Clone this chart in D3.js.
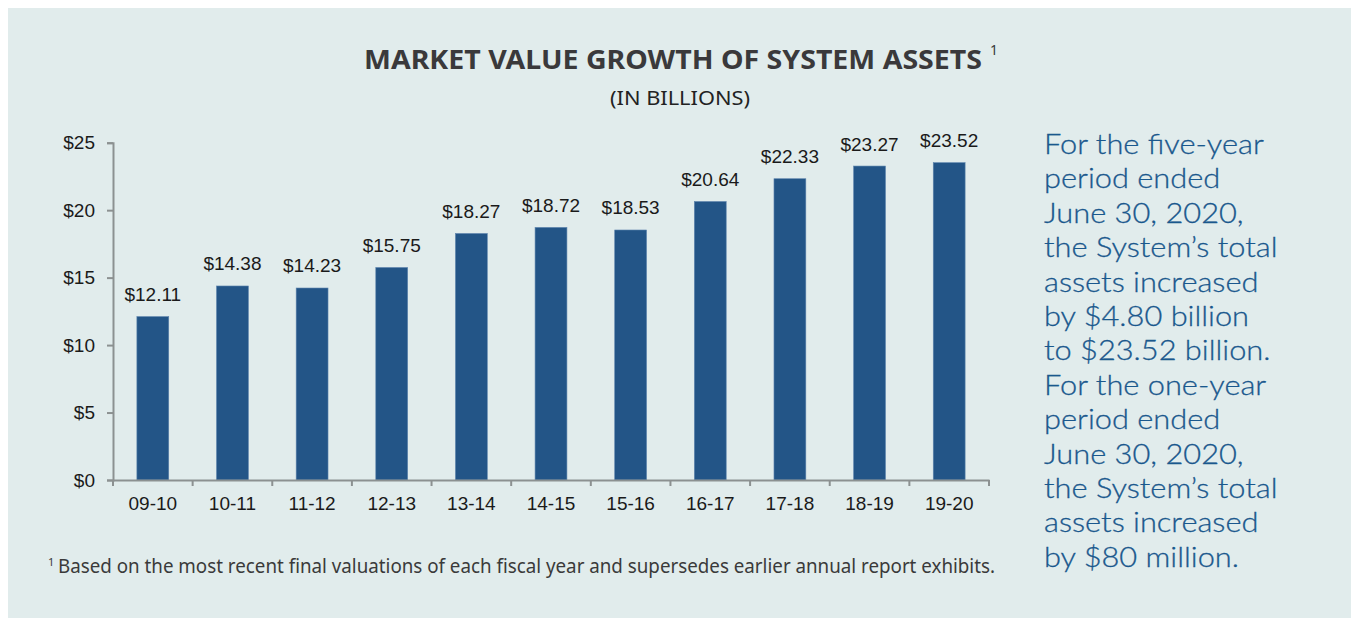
<!DOCTYPE html>
<html lang="en">
<head>
	<meta charset="utf-8">
	<title>Market Value Growth of System Assets</title>
	<script src="https://cdn.jsdelivr.net/npm/d3@7"></script>
	<style>
		body {
			margin: 0;
			padding: 0;
			background: #ffffff;
		}

		.tick text,
		.bar-label {
			font-family: "Liberation Sans", Arial, sans-serif;
			font-size: 19px;
			fill: #1a1a1a;
		}

		.side-text {
			font-family: Lato, "Open Sans", sans-serif;
			font-weight: 300;
			font-size: 28px;
			fill: #1a588d;
			stroke: #1a588d;
			stroke-width: 0.3;
		}
	</style>
</head>
<body>
	<div id="chart"></div>
	<script>

		// Data
		var years = ["09-10", "10-11", "11-12", "12-13", "13-14", "14-15", "15-16", "16-17", "17-18", "18-19", "19-20"];
		var assets = [12.11, 14.38, 14.23, 15.75, 18.27, 18.72, 18.53, 20.64, 22.33, 23.27, 23.52];
		var yTicks = [0, 5, 10, 15, 20, 25];
		var sideLines = [
			"For the five-year",
			"period ended",
			"June 30, 2020,",
			"the System\u2019s total",
			"assets increased",
			"by $4.80 billion",
			"to $23.52 billion.",
			"For the one-year",
			"period ended",
			"June 30, 2020,",
			"the System\u2019s total",
			"assets increased",
			"by $80 million."
		];
		var titleText = "MARKET VALUE GROWTH OF SYSTEM ASSETS";
		var subtitleText = "(IN BILLIONS)";
		var footnoteText = "Based on the most recent final valuations of each fiscal year and supersedes earlier annual report exhibits.";

		var width = 1351,
			height = 618;

		var margin = { top: 142.7, left: 113, right: 362, bottom: 138 };
		var w = width - margin.left - margin.right;
		var h = height - margin.top - margin.bottom;

		var svg = d3.select("#chart")
			.append("svg")
			.attr("width", width)
			.attr("height", height);

		// panel background
		svg.append("rect")
			.attr("x", 8)
			.attr("y", 8)
			.attr("width", width - 8)
			.attr("height", height - 8)
			.attr("fill", "#e1ecec");

		// titles
		svg.append("text")
			.attr("x", 364)
			.attr("y", 69)
			.attr("textLength", 618)
			.attr("lengthAdjust", "spacingAndGlyphs")
			.style("font-family", "'Noto Sans', sans-serif")
			.style("font-weight", "bold")
			.style("font-size", "27px")
			.style("fill", "#3a393b")
			.text(titleText);

		svg.append("text")
			.attr("x", 990)
			.attr("y", 55)
			.style("font-family", "'Noto Sans', sans-serif")
			.style("font-size", "14px")
			.style("fill", "#3a393b")
			.text("1");

		svg.append("text")
			.attr("x", 610)
			.attr("y", 105)
			.attr("textLength", 140)
			.attr("lengthAdjust", "spacingAndGlyphs")
			.style("font-family", "'Noto Sans', sans-serif")
			.style("font-size", "19px")
			.style("fill", "#222")
			.text(subtitleText);

		var g = svg.append("g")
			.attr("transform", "translate(" + margin.left + "," + margin.top + ")");

		var x = d3.scaleBand()
			.domain(years)
			.range([0, w])
			.paddingInner(0.6)
			.paddingOuter(0.3);

		var y = d3.scaleLinear()
			.domain([0, 25])
			.range([h, 0]);

		// bars
		g.selectAll("rect.bar")
			.data(years)
			.enter().append("rect")
			.attr("class", "bar")
			.attr("x", function (d) { return x(d); })
			.attr("y", function (d, i) { return y(assets[i]); })
			.attr("width", x.bandwidth())
			.attr("height", function (d, i) { return h - y(assets[i]); })
			.attr("fill", "#235587")
			.attr("stroke", "#5d84ad")
			.attr("stroke-width", 0.6);

		// value labels
		g.selectAll("text.bar-label")
			.data(years)
			.enter().append("text")
			.attr("class", "bar-label")
			.attr("x", function (d) { return x(d) + x.bandwidth() / 2; })
			.attr("y", function (d, i) { return y(assets[i]) - 15.5; })
			.attr("text-anchor", "middle")
			.text(function (d, i) { return "$" + assets[i].toFixed(2); });

		// y axis
		var yAxis = g.append("g")
			.call(d3.axisLeft(y)
				.tickValues(yTicks)
				.tickSize(6)
				.tickPadding(12)
				.tickFormat(function (d) { return "$" + d; }));

		// x axis (labels only)
		var xAxis = g.append("g")
			.attr("transform", "translate(0," + h + ")")
			.call(d3.axisBottom(x).tickSize(0).tickPadding(17));

		[yAxis, xAxis].forEach(function (a) {
			a.select(".domain").attr("stroke", "#8c9191").attr("stroke-width", 2);
			a.selectAll(".tick line").attr("stroke", "#8c9191").attr("stroke-width", 2);
		});

		// boundary ticks between categories
		var step = x.step();
		var bounds = years.map(function (d) { return x(d) - step * x.paddingInner() / 2; })
			.concat([x(years[years.length - 1]) + x.bandwidth() + step * x.paddingInner() / 2]);

		xAxis.selectAll("line.bound")
			.data(bounds)
			.enter().append("line")
			.attr("class", "bound")
			.attr("x1", function (d) { return d; })
			.attr("x2", function (d) { return d; })
			.attr("y1", 0)
			.attr("y2", 6)
			.attr("stroke", "#8c9191")
			.attr("stroke-width", 2);

		// side note, slightly widened to match the original typeface
		var side = svg.append("g")
			.attr("transform", "translate(1044,0) scale(1.1,1)");

		side.selectAll("text.side-text")
			.data(sideLines)
			.enter().append("text")
			.attr("class", "side-text")
			.attr("x", 0)
			.attr("y", function (d, i) { return 154 + i * 34.4; })
			.text(function (d) { return d; });

		// footnote
		svg.append("text")
			.attr("x", 48)
			.attr("y", 566)
			.style("font-family", "'Noto Sans', sans-serif")
			.style("font-size", "11px")
			.style("fill", "#3a3a3a")
			.text("1");

		svg.append("text")
			.attr("x", 58)
			.attr("y", 573)
			.attr("textLength", 937)
			.attr("lengthAdjust", "spacingAndGlyphs")
			.style("font-family", "'Noto Sans', sans-serif")
			.style("font-size", "19px")
			.style("fill", "#3a3a3a")
			.text(footnoteText);

	</script>
</body>
</html>
